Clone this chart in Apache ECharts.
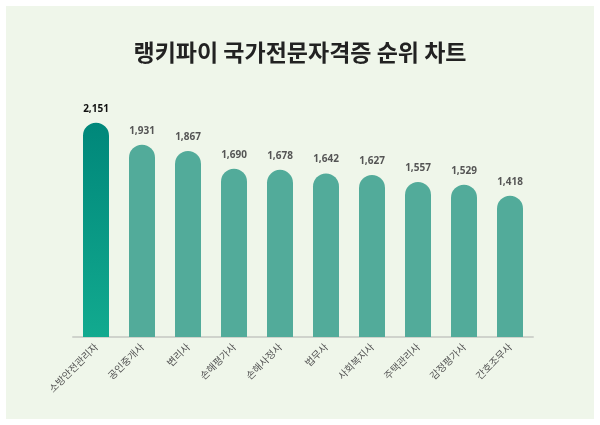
<!DOCTYPE html>
<html><head><meta charset="utf-8">
<script src="https://cdn.jsdelivr.net/npm/echarts@6/dist/echarts.min.js"></script>
<style>html,body{margin:0;padding:0;background:#fff;}#c{width:600px;height:425px;}</style>
</head><body><div id="c"></div>
<script>
const categories = ['소방안전관리자','공인중개사','변리사','손해평가사','손해사정사','법무사','사회복지사','주택관리사','감정평가사','간호조무사'];
const values = [2151,1931,1867,1690,1678,1642,1627,1557,1529,1418];

const chart = echarts.init(document.getElementById('c'));
const data = values.map((v, i) => {
  if (i === 0) {
    return {
      value: v,
      itemStyle: { color: new echarts.graphic.LinearGradient(0,0,0,1,[{offset:0,color:'#00877a'},{offset:1,color:'#12aa8f'}]) },
      label: { color: '#111', fontWeight: 'bold' }
    };
  }
  return v;
});
chart.setOption({
  backgroundColor: '#ffffff',
  graphic: [{ type: 'rect', shape: { x: 6, y: 6, width: 588, height: 413 }, style: { fill: '#eff6ea' }, z: -10 }],
  title: {
    text: '랭키파이 국가전문자격증 순위 차트',
    left: 'center', top: 36,
    textStyle: { fontFamily: 'Noto Sans CJK KR', fontSize: 23, fontWeight: 'bold', color: '#222' }
  },
  grid: { left: 73, right: 67, top: 88, bottom: 88 },
  xAxis: {
    type: 'category', data: categories,
    axisLine: { lineStyle: { color: '#cfd3cc', width: 2 } },
    axisTick: { show: false },
    axisLabel: { rotate: 45, color: '#555', fontSize: 10, fontFamily: 'Noto Sans CJK KR', margin: 8, interval: 0 }
  },
  yAxis: { type: 'value', min: 0, max: 2500, show: false, splitLine: { show: false } },
  series: [{
    type: 'bar', data: data, barWidth: 26,
    itemStyle: { color: '#52ab9a', borderRadius: [13,13,0,0] },
    label: {
      show: true, position: 'top', distance: 9,
      formatter: p => p.value.toLocaleString('en-US'),
      color: '#555', fontSize: 10, fontWeight: 'bold', fontFamily: 'Noto Sans'
    }
  }]
});
</script></body></html>
